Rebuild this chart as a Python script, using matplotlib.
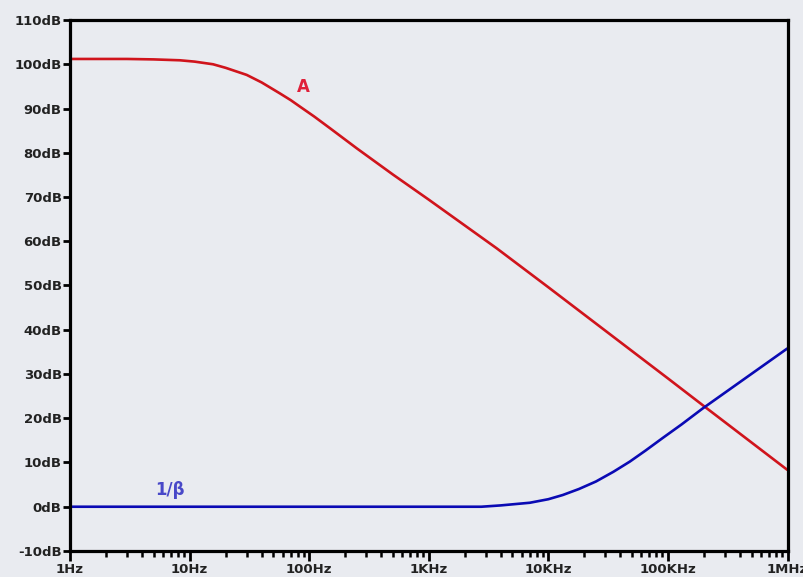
import matplotlib.pyplot as plt
from matplotlib.ticker import LogLocator, NullFormatter

# open-loop gain A
freq_a = [1, 3, 5, 8.3, 11, 15.7, 20, 30, 40, 57, 70, 84, 110, 150, 250, 500,
          1e3, 3.7e3, 1e4, 1e5, 2.1e5, 1e6]
gain_a = [101.2, 101.2, 101.1, 100.9, 100.6, 100.0, 99.2, 97.6, 95.9, 93.4,
          91.9, 90.4, 88.2, 85.5, 81.0, 75.1, 69.4, 58.4, 49.6, 29.0, 22.3, 8.3]

# noise gain 1/beta
freq_b = [1, 2.75e3, 4e3, 7e3, 1e4, 1.32e4, 1.8e4, 2.5e4, 3.5e4, 4.8e4,
          6.5e4, 9e4, 1.3e5, 1.95e5, 1e6]
gain_b = [0, 0, 0.3, 0.9, 1.7, 2.65, 4.0, 5.7, 7.9, 10.2, 12.7, 15.5,
          18.6, 22.2, 35.8]

xticks = [1, 10, 100, 1e3, 1e4, 1e5, 1e6]
xlabels = ['1Hz', '10Hz', '100Hz', '1KHz', '10KHz', '100KHz', '1MHz']
yticks = list(range(-10, 111, 10))
ylabels = [str(v) + 'dB' for v in yticks]

bg = '#e9ebf0'
fig = plt.figure(figsize=(8.04, 5.77), dpi=100, facecolor=bg)
ax = fig.add_axes([0.0871, 0.0451, 0.8924, 0.9202], facecolor=bg)

ax.plot(freq_a, gain_a, color='#d0141c', lw=1.9, solid_capstyle='butt')
ax.plot(freq_b, gain_b, color='#0a0ab4', lw=1.9, solid_capstyle='butt')

ax.text(88.8, 94.9, 'A', color='#e0203a', fontsize=12, fontweight='bold',
        ha='center', va='center')
ax.text(6.85, 3.8, '1/β', color='#4848c8', fontsize=12, fontweight='bold',
        ha='center', va='center')

ax.set_xscale('log')
ax.set_xlim(1, 1e6)
ax.set_ylim(-10, 110)

ax.set_xticks(xticks)
ax.set_xticklabels(xlabels)
ax.xaxis.set_minor_locator(LogLocator(base=10, subs=range(2, 10), numticks=20))
ax.xaxis.set_minor_formatter(NullFormatter())
ax.set_yticks(yticks)
ax.set_yticklabels(ylabels)

for s in ax.spines.values():
    s.set_linewidth(2.3)
    s.set_color('black')

ax.tick_params(axis='x', which='major', direction='out', length=7, width=2,
               pad=2, labelsize=9.5, colors='black', labelcolor='#222222')
ax.tick_params(axis='x', which='minor', direction='out', length=4, width=1.8)
ax.tick_params(axis='y', which='major', direction='out', length=5, width=2,
               pad=1, labelsize=9.5, labelcolor='#222222')
for lab in ax.get_xticklabels() + ax.get_yticklabels():
    lab.set_fontweight('bold')

fig.savefig('out.png', dpi=100, facecolor=bg)
